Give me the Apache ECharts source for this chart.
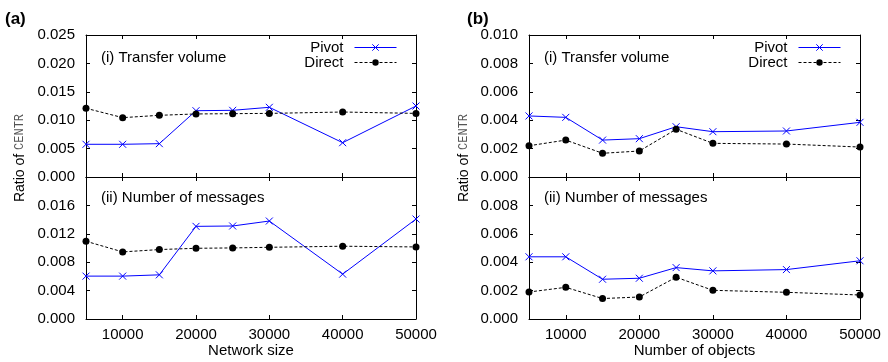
<!DOCTYPE html>
<html>
<head>
<meta charset="utf-8">
<script src="https://cdn.jsdelivr.net/npm/echarts@6/dist/echarts.min.js"></script>
<style>
  html, body { margin: 0; padding: 0; background: #fff; }
  #chart { width: 888px; height: 362px; }
</style>
</head>
<body>
<div id="chart"></div>
<script>
// x positions of the measurements
var xValues = [5000, 10000, 15000, 20000, 25000, 30000, 40000, 50000];
var xTicks = [10000, 20000, 30000, 40000, 50000];

// (a) network size
var netVolPivot = [0.00576, 0.00576, 0.00587, 0.01167, 0.01174, 0.01227, 0.00604, 0.0125];
var netVolDirect = [0.0121, 0.01045, 0.01086, 0.0111, 0.01115, 0.0112, 0.01144, 0.0112];
var netMsgPivot = [0.00604, 0.00604, 0.00622, 0.01305, 0.0131, 0.0138, 0.00632, 0.01408];
var netMsgDirect = [0.01095, 0.00945, 0.00978, 0.00996, 0.01001, 0.0101, 0.01025, 0.01015];

// (b) number of objects
var objVolPivot = [0.0043, 0.0042, 0.0026, 0.0027, 0.00354, 0.00319, 0.00324, 0.00385];
var objVolDirect = [0.0022, 0.0026, 0.00167, 0.00183, 0.00336, 0.00237, 0.00232, 0.00211];
var objMsgPivot = [0.00438, 0.00438, 0.0028, 0.00287, 0.00362, 0.00339, 0.00348, 0.0041];
var objMsgDirect = [0.0019, 0.00223, 0.00144, 0.00155, 0.00294, 0.00202, 0.00188, 0.00169];

// y ranges: [max, interval] per panel
var yMax = [0.025, 0.020, 0.010, 0.010];
var yStep = [0.005, 0.004, 0.002, 0.002];

var panelTitles = ['(i) Transfer volume', '(ii) Number of messages', '(i) Transfer volume', '(ii) Number of messages'];
var xNames = ['', 'Network size', '', 'Number of objects'];

var FONT = 'Liberation Sans';
var xMark = 'path://M0,0L10,10M10,0L0,10';

var chart = echarts.init(document.getElementById('chart'));

var grids = [
  { left: 86, top: 35, width: 330, height: 142 },
  { left: 86, top: 177, width: 330, height: 142 },
  { left: 529, top: 35, width: 331, height: 142 },
  { left: 529, top: 177, width: 331, height: 142 }
];

var xAxes = [], yAxes = [], series = [];
var pivots = [netVolPivot, netMsgPivot, objVolPivot, objMsgPivot];
var directs = [netVolDirect, netMsgDirect, objVolDirect, objMsgDirect];

function pairs (ys) {
  return xValues.map(function (x, i) { return [x, ys[i]]; });
}

grids.forEach(function (g, i) {
  var isBottom = (i % 2 === 1);
  ['bottom', 'top'].forEach(function (pos) {
    xAxes.push({
      type: 'value', gridIndex: i, position: pos,
      min: 5000, max: 50000,
      name: pos === 'bottom' ? xNames[i] : '',
      nameLocation: 'middle', nameGap: 24,
      nameTextStyle: { fontFamily: FONT, fontSize: 15, color: '#000' },
      axisLine: { show: true, onZero: false, lineStyle: { color: '#000', width: 1 } },
      axisTick: { show: true, inside: true, length: 4, customValues: xTicks, lineStyle: { color: '#000' } },
      axisLabel: {
        show: pos === 'bottom' && isBottom, customValues: xTicks, margin: 8,
        fontFamily: FONT, fontSize: 15, color: '#000',
        formatter: function (v) { return String(v); }
      },
      splitLine: { show: false }
    });
  });
  ['left', 'right'].forEach(function (pos) {
    yAxes.push({
      type: 'value', gridIndex: i, position: pos,
      min: 0, max: yMax[i], interval: yStep[i],
      axisLine: { show: true, onZero: false, lineStyle: { color: '#000', width: 1 } },
      axisTick: { show: true, inside: true, length: 4, lineStyle: { color: '#000' } },
      axisLabel: {
        show: pos === 'left', margin: 11, showMaxLabel: !isBottom,
        fontFamily: FONT, fontSize: 15, color: '#000',
        formatter: function (v) { return v.toFixed(3); }
      },
      splitLine: { show: false }
    });
  });
  series.push({
    name: 'Pivot', type: 'line', xAxisIndex: 2 * i, yAxisIndex: 2 * i,
    data: pairs(pivots[i]),
    symbol: xMark, symbolSize: 7,
    lineStyle: { color: '#0000ff', width: 1 },
    itemStyle: { color: '#0000ff', borderColor: '#0000ff', borderWidth: 1 },
    emphasis: { disabled: true }, animation: false
  });
  series.push({
    name: 'Direct', type: 'line', xAxisIndex: 2 * i, yAxisIndex: 2 * i,
    data: pairs(directs[i]),
    symbol: 'circle', symbolSize: 7,
    lineStyle: { color: '#000', width: 1, type: [3, 2] },
    itemStyle: { color: '#000' },
    emphasis: { disabled: true }, animation: false
  });
});

function legendAt (right) {
  return {
    orient: 'vertical', right: right, top: 40, align: 'right', padding: 0,
    itemWidth: 42, itemHeight: 8, itemGap: 0,
    data: ['Pivot', 'Direct'],
    lineStyle: { width: 1 },
    itemStyle: { borderWidth: 1 },
    textStyle: { fontFamily: FONT, fontSize: 15, color: '#000', padding: [0, 6, 0, 0] },
    selectedMode: false
  };
}

var graphics = [
  { type: 'text', x: 5, y: 19, style: { text: '(a)', font: 'bold 17px ' + FONT, fill: '#000', verticalAlign: 'middle' } },
  { type: 'text', x: 467, y: 19, style: { text: '(b)', font: 'bold 17px ' + FONT, fill: '#000', verticalAlign: 'middle' } }
];
grids.forEach(function (g, i) {
  graphics.push({
    type: 'text', x: g.left + 15, y: g.top + (i % 2 ? 21 : 23),
    style: { text: panelTitles[i], font: '15px ' + FONT, fill: '#000', verticalAlign: 'middle' }
  });
});
[20, 464].forEach(function (cx) {
  graphics.push({
    type: 'text', x: cx, y: 158, rotation: Math.PI / 2,
    style: {
      text: '{a|Ratio of }{b|CENTR}',
      align: 'center', verticalAlign: 'middle',
      rich: {
        a: { fontFamily: FONT, fontSize: 14, fill: '#000' },
        b: { fontFamily: 'Liberation Mono', fontSize: 12, fill: '#555' }
      }
    }
  });
});

chart.setOption({
  animation: false,
  grid: grids,
  xAxis: xAxes,
  yAxis: yAxes,
  legend: [legendAt(491), legendAt(47)],
  series: series,
  graphic: graphics
});
</script>
</body>
</html>
